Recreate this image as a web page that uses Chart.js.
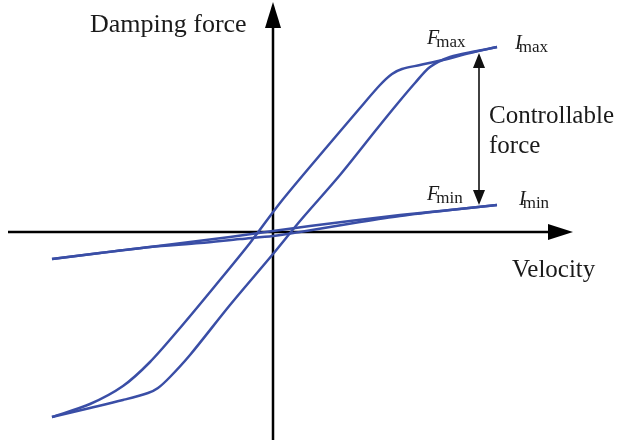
<!DOCTYPE html>
<html lang="en">
<head>
  <meta charset="UTF-8">
  <title>Damping force - velocity</title>
  <script src="https://cdn.jsdelivr.net/npm/chart.js"></script>
  <style>
    body { margin: 0; background: #fff; }
    #wrap { width: 617px; height: 445px; }
  </style>
</head>
<body>
  <div id="wrap"><canvas id="chartCanvas" width="617" height="445"></canvas></div>

  <script>
    // Imax loop (arbitrary units: velocity, force)
    const imaxUpV = [-221, -183, -150, -123, -93, -58, -23, 7, 47, 87, 107, 119, 129, 147, 170, 197, 224];
    const imaxUpF = [-185, -172, -154, -130, -96, -54, -11, 29, 77, 124, 147, 158, 163, 167, 172, 179, 185];
    const imaxDownV = [224, 204, 177, 157, 142, 125, 103, 67, 27, 0, -43, -83, -103, -115, -125, -150, -183, -221];
    const imaxDownF = [185, 181, 175, 165, 149, 129, 102, 57, 11, -22, -73, -123, -145, -156, -161, -168, -176, -185];

    // Imin loop
    const iminUpV = [-221, -173, -123, -83, -43, 0, 37, 77, 127, 177, 224];
    const iminUpF = [-27, -21, -15, -10, -5, 1, 6, 11, 17, 22, 27];
    const iminDownV = [224, 177, 127, 87, 57, 27, 0, -33, -73, -123, -173, -221];
    const iminDownF = [27, 22, 16, 10, 5, 0, -4, -7, -11, -15, -21, -27];

    // controllable force arrow: Fmax / Fmin at this velocity
    const arrowV = 206;
    const fMax = 179;
    const fMin = 27;

    const blue = "#3a4ea6";
    const toPts = (vs, fs) => vs.map((v, i) => ({ x: v, y: fs[i] }));

    function line(vs, fs) {
      return {
        data: toPts(vs, fs),
        showLine: true,
        borderColor: blue,
        borderWidth: 2.5,
        pointRadius: 0,
        tension: 0.3,
        fill: false
      };
    }

    function arrowHead(c, x, y, dx, dy, len, half) {
      // tip at (x,y), pointing in direction (dx,dy)
      c.beginPath();
      c.moveTo(x, y);
      c.lineTo(x - dx * len - dy * half, y - dy * len + dx * half);
      c.lineTo(x - dx * len + dy * half, y - dy * len - dx * half);
      c.closePath();
      c.fill();
    }

    const decor = {
      id: "decor",
      beforeDatasetsDraw(chart) {
        const c = chart.ctx;
        const xs = chart.scales.x, ys = chart.scales.y;
        const x0 = xs.getPixelForValue(0), y0 = ys.getPixelForValue(0);
        c.save();
        c.strokeStyle = "#000";
        c.fillStyle = "#000";
        c.lineWidth = 2.5;
        // velocity axis
        const xl = xs.getPixelForValue(-265), xr = xs.getPixelForValue(300);
        c.beginPath(); c.moveTo(xl, y0); c.lineTo(xr - 20, y0); c.stroke();
        arrowHead(c, xr, y0, 1, 0, 25, 8);
        // force axis
        const yb = ys.getPixelForValue(-208), yt = ys.getPixelForValue(230);
        c.beginPath(); c.moveTo(x0, yb); c.lineTo(x0, yt + 20); c.stroke();
        arrowHead(c, x0, yt, 0, -1, 26, 8);
        c.restore();
      },
      afterDatasetsDraw(chart) {
        const c = chart.ctx;
        const xs = chart.scales.x, ys = chart.scales.y;
        c.save();
        // controllable force arrow
        const ax = xs.getPixelForValue(arrowV);
        const aTop = ys.getPixelForValue(fMax), aBot = ys.getPixelForValue(fMin);
        c.strokeStyle = "#111"; c.fillStyle = "#111"; c.lineWidth = 1.6;
        c.beginPath(); c.moveTo(ax, aTop + 12); c.lineTo(ax, aBot - 12); c.stroke();
        arrowHead(c, ax, aTop, 0, -1, 15, 6);
        arrowHead(c, ax, aBot, 0, 1, 15, 6);

        c.fillStyle = "#1a1a1a";
        c.textBaseline = "alphabetic";
        c.font = '26px "Liberation Serif"';
        c.fillText("Damping force", 90, 32);
        c.font = '25px "Liberation Serif"';
        c.fillText("Velocity", 512, 277);
        c.font = '25px "Liberation Serif"';
        c.fillText("Controllable", 489, 123);
        c.fillText("force", 489, 153);

        function sub(main, s, x, y) {
          c.font = 'italic 20px "Liberation Serif"';
          c.fillText(main, x, y);
          const w = c.measureText(main).width;
          c.font = '17px "Liberation Serif"';
          c.fillText(s, x + w - 3, y + 3);
        }
        sub("F", "max", 427, 44);
        sub("I", "max", 515, 49);
        sub("F", "min", 427, 200);
        sub("I", "min", 519, 205);
        c.restore();
      }
    };

    new Chart(document.getElementById("chartCanvas"), {
      type: "scatter",
      data: {
        datasets: [
          line(imaxUpV, imaxUpF),
          line(imaxDownV, imaxDownF),
          line(iminUpV, iminUpF),
          line(iminDownV, iminDownF)
        ]
      },
      options: {
        responsive: false,
        animation: false,
        layout: { padding: 0 },
        plugins: { legend: { display: false }, tooltip: { enabled: false } },
        scales: {
          x: { type: "linear", min: -273, max: 344, display: false },
          y: { type: "linear", min: -213, max: 232, display: false }
        }
      },
      plugins: [decor]
    });
  </script>
</body>
</html>
